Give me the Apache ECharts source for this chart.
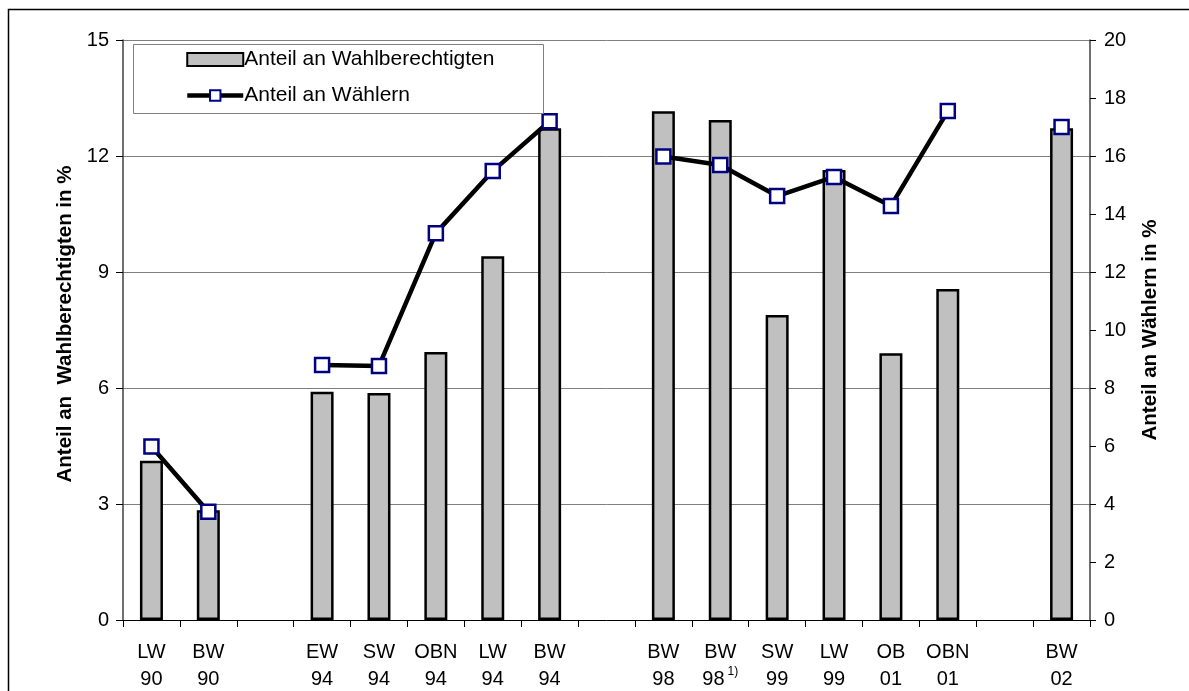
<!DOCTYPE html>
<html>
<head>
<meta charset="utf-8">
<script src="https://cdn.jsdelivr.net/npm/echarts@6/dist/echarts.min.js"></script>
<style>
  html, body { margin: 0; padding: 0; background: #fff; }
  #chart { width: 1189px; height: 691px; }
</style>
</head>
<body>
<div id="chart"></div>
<script>
// Kategorien (leere Einträge = Lücken zwischen den Wahlgruppen)
var categories = ['LW\n90', 'BW\n90', '', 'EW\n94', 'SW\n94', 'OBN\n94', 'LW\n94', 'BW\n94', '',
    'BW\n98', 'BW\n98{sup|1)}', 'SW\n99', 'LW\n99', 'OB\n01', 'OBN\n01', '', 'BW\n02'];

// Anteil an Wahlberechtigten (linke Achse)
var anteilWahlberechtigte = [4.12, 2.84, null, 5.9, 5.87, 6.93, 9.41, 12.72, null,
    13.16, 12.93, 7.89, 11.64, 6.9, 8.56, null, 12.72];

// Anteil an Wählern (rechte Achse)
var anteilWaehler = [5.98, 3.73, null, 8.79, 8.76, 13.34, 15.48, 17.2, null,
    15.98, 15.69, 14.62, 15.28, 14.28, 17.55, null, 17.0];

var font = '"Liberation Sans", Arial, sans-serif';

var chart = echarts.init(document.getElementById('chart'));

chart.setOption({
    animation: false,
    textStyle: { fontFamily: font },
    grid: { left: 123, right: 99, top: 40, bottom: 71, outerBoundsMode: 'none', containLabel: false },
    graphic: [
        // äußerer Rahmen
        { type: 'rect', shape: { x: 8.5, y: 9.5, width: 1200, height: 700 },
          style: { fill: 'none', stroke: '#000', lineWidth: 1.5 }, silent: true },
        // Legendenrahmen
        { type: 'rect', shape: { x: 133.5, y: 44.5, width: 410, height: 69 },
          style: { fill: '#fff', stroke: '#808080', lineWidth: 1 }, z: 10, silent: true }
    ],
    legend: {
        orient: 'vertical',
        left: 180,
        top: 44,
        itemWidth: 56,
        itemHeight: 13,
        itemGap: 15,
        z: 20,
        textStyle: { fontFamily: font, fontSize: 21, color: '#000', padding: [0, 0, 0, -4] },
        data: [
            { name: 'Anteil an Wahlberechtigten', icon: 'rect' },
            { name: 'Anteil an Wählern', lineStyle: { width: 4.5 } }
        ]
    },
    xAxis: {
        type: 'category',
        data: categories,
        boundaryGap: true,
        axisLine: { lineStyle: { color: '#000', width: 1 } },
        axisTick: { show: true, interval: 0, length: 7, lineStyle: { color: '#000' } },
        axisLabel: {
            interval: 0,
            margin: 19,
            fontSize: 20,
            lineHeight: 27,
            color: '#000',
            fontFamily: font,
            rich: {
                sup: { fontSize: 12, verticalAlign: 'top', padding: [0, 0, 14, 3], fontFamily: font, color: '#000' }
            }
        }
    },
    yAxis: [
        {
            type: 'value',
            min: 0, max: 15, interval: 3,
            position: 'left',
            name: 'Anteil an  Wahlberechtigten in %',
            nameLocation: 'middle',
            nameGap: 47,
            nameTextStyle: { fontFamily: font, fontSize: 20.5, fontWeight: 'bold', color: '#000', padding: [0, 0, 0, 12] },
            axisLine: { show: true, lineStyle: { color: '#404040', width: 1.5 } },
            axisTick: { show: true, length: 7, lineStyle: { color: '#000' } },
            axisLabel: { fontSize: 20, color: '#000', margin: 14, fontFamily: font },
            splitLine: { show: true, lineStyle: { color: '#7f7f7f', width: 1 } }
        },
        {
            type: 'value',
            min: 0, max: 20, interval: 2,
            position: 'right',
            name: 'Anteil an Wählern in %',
            nameLocation: 'middle',
            nameGap: 50,
            nameRotate: 90,
            nameTextStyle: { fontFamily: font, fontSize: 20.5, fontWeight: 'bold', color: '#000' },
            axisLine: { show: true, lineStyle: { color: '#404040', width: 1.5 } },
            axisTick: { show: true, length: 6, lineStyle: { color: '#000' } },
            axisLabel: { fontSize: 20, color: '#000', margin: 14, fontFamily: font },
            splitLine: { show: false }
        }
    ],
    series: [
        {
            name: 'Anteil an Wahlberechtigten',
            type: 'bar',
            yAxisIndex: 0,
            barWidth: 23,
            data: anteilWahlberechtigte,
            itemStyle: { color: '#c0c0c0', borderColor: '#000', borderWidth: 2.5 }
        },
        {
            name: 'Anteil an Wählern',
            type: 'line',
            yAxisIndex: 1,
            data: anteilWaehler,
            connectNulls: false,
            symbol: 'rect',
            symbolSize: 14,
            lineStyle: { color: '#000', width: 4.5 },
            itemStyle: { color: '#fff', borderColor: '#000080', borderWidth: 2.5 },
            z: 5
        }
    ]
});
</script>
</body>
</html>
